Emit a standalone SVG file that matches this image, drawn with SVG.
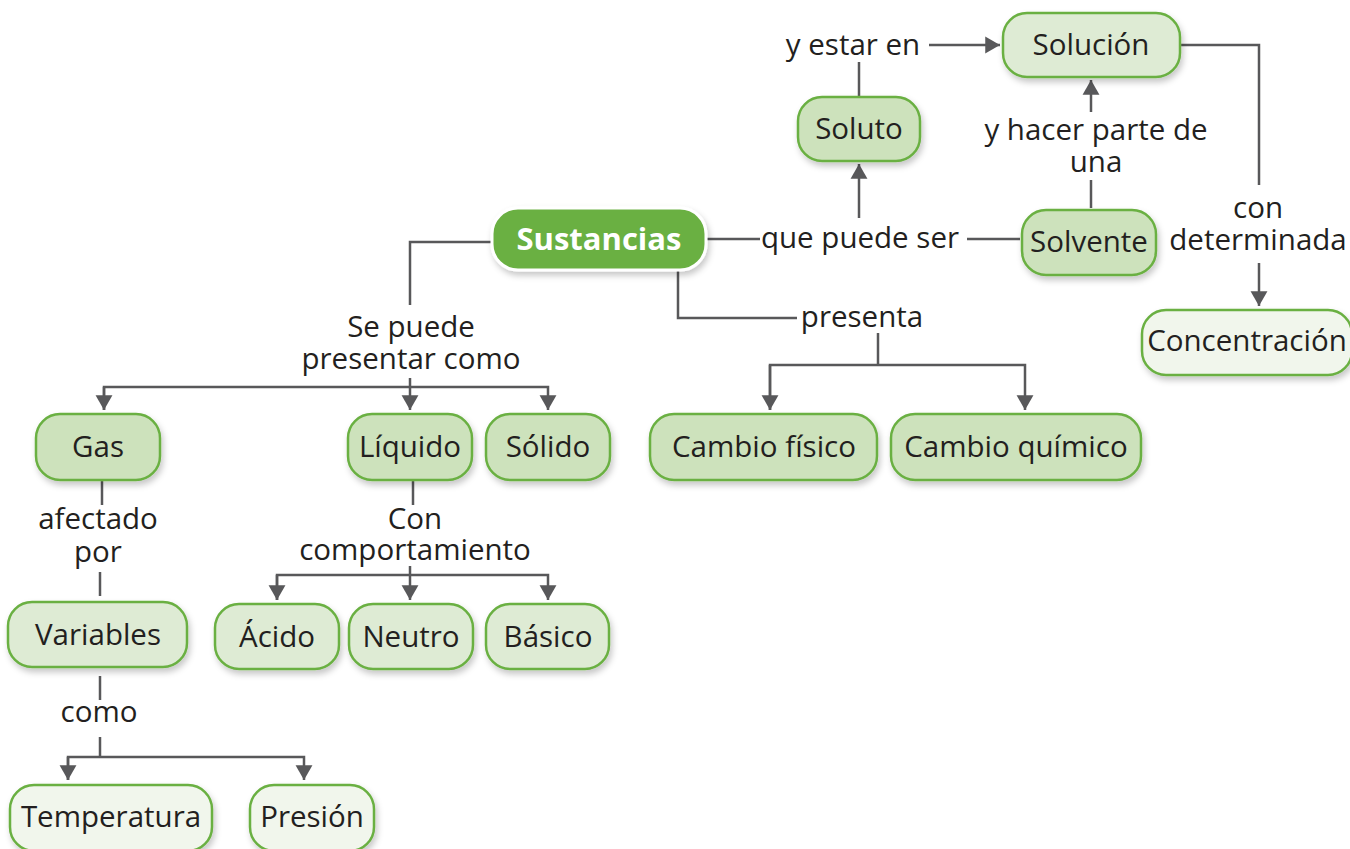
<svg xmlns="http://www.w3.org/2000/svg" width="1350" height="849" viewBox="0 0 1350 849">
<defs>
<filter id="sh" x="-20%" y="-20%" width="150%" height="160%">
<feDropShadow dx="2" dy="4" stdDeviation="3" flood-color="#000" flood-opacity="0.22"/>
</filter>
<marker id="ar" viewBox="0 0 14 18" markerWidth="15" markerHeight="19" refX="14" refY="9" orient="auto" markerUnits="userSpaceOnUse">
<path d="M0,1 L14,9 L0,17 Z" fill="#58585a"/>
</marker>
</defs>
<style>
text{font-family:"Open Sans","Noto Sans",sans-serif;font-size:29.5px;fill:#231f20;text-anchor:middle}
.n rect{stroke:#6ab042;stroke-width:2.5;filter:url(#sh)}
.m rect{fill:#cde2bc}
.l rect{fill:#deebd4}
.p rect{fill:#f1f6ec}
.c path{fill:none;stroke:#58585a;stroke-width:2.5}
.main rect{fill:#6ab042;stroke:#fff;stroke-width:3}
.main text{fill:#fff;font-weight:bold;font-size:31px}
</style>
<rect width="1350" height="849" fill="#fff"/>
<g class="c">
<path d="M492,242 H410 V305"/>
<path d="M410,378 V410" marker-end="url(#ar)"/>
<path d="M104,410 V387 H548 V410" marker-end="url(#ar)"/>
<path d="M104,387 V410" marker-end="url(#ar)"/>
<path d="M706,239 H760"/>
<path d="M967,239 H1020"/>
<path d="M859,218 V164" marker-end="url(#ar)"/>
<path d="M859,97 V62"/>
<path d="M929,45 H1000" marker-end="url(#ar)"/>
<path d="M1091,208 V180"/>
<path d="M1091,112 V80" marker-end="url(#ar)"/>
<path d="M1180,45 H1259 V185"/>
<path d="M1259,263 V306" marker-end="url(#ar)"/>
<path d="M678,270 V318 H797"/>
<path d="M878,333 V365"/>
<path d="M770,410 V365 H1025 V410" marker-end="url(#ar)"/>
<path d="M770,365 V410" marker-end="url(#ar)"/>
<path d="M102,480 V505"/>
<path d="M100,572 V596"/>
<path d="M413,480 V505"/>
<path d="M410,566 V600" marker-end="url(#ar)"/>
<path d="M277,600 V575 H548 V600" marker-end="url(#ar)"/>
<path d="M277,575 V600" marker-end="url(#ar)"/>
<path d="M100,676 V700"/>
<path d="M100,737 V757"/>
<path d="M68,780 V757 H304 V780" marker-end="url(#ar)"/>
<path d="M68,757 V780" marker-end="url(#ar)"/>
</g>
<g id="labels">
<text x="853" y="55">y estar en</text>
<text x="860" y="248">que puede ser</text>
<text x="1096" y="140">y hacer parte de</text>
<text x="1096" y="172">una</text>
<text x="1258" y="218">con</text>
<text x="1258" y="250">determinada</text>
<text x="411" y="337">Se puede</text>
<text x="411" y="369">presentar como</text>
<text x="862" y="327">presenta</text>
<text x="98" y="529">afectado</text>
<text x="98" y="562">por</text>
<text x="415" y="529">Con</text>
<text x="415" y="560">comportamiento</text>
<text x="99" y="722">como</text>
</g>
<g id="sustancias" class="n main"><rect x="492" y="208" width="214" height="62" rx="26"/><text x="599" y="250">Sustancias</text></g>
<g id="soluto" class="n m"><rect x="798" y="97" width="122" height="64" rx="24"/><text x="859" y="139">Soluto</text></g>
<g id="solucion" class="n l"><rect x="1003" y="13" width="177" height="64" rx="24"/><text x="1091" y="55">Solución</text></g>
<g id="solvente" class="n m"><rect x="1022" y="210" width="134" height="65" rx="24"/><text x="1089" y="252">Solvente</text></g>
<g id="concentracion" class="n p"><rect x="1142" y="310" width="210" height="65" rx="24"/><text x="1247" y="351">Concentración</text></g>
<g id="gas" class="n m"><rect x="36" y="414" width="124" height="66" rx="24"/><text x="98" y="457">Gas</text></g>
<g id="liquido" class="n m"><rect x="348" y="414" width="124" height="66" rx="24"/><text x="410" y="457">Líquido</text></g>
<g id="solido" class="n m"><rect x="486" y="414" width="124" height="66" rx="24"/><text x="548" y="457">Sólido</text></g>
<g id="cambio-fisico" class="n m"><rect x="650" y="414" width="227" height="66" rx="24"/><text x="764" y="457">Cambio físico</text></g>
<g id="cambio-quimico" class="n m"><rect x="891" y="414" width="250" height="66" rx="24"/><text x="1016" y="457">Cambio químico</text></g>
<g id="variables" class="n l"><rect x="8" y="602" width="179" height="65" rx="24"/><text x="98" y="645">Variables</text></g>
<g id="acido" class="n l"><rect x="215" y="604" width="124" height="65" rx="24"/><text x="277" y="647">Ácido</text></g>
<g id="neutro" class="n l"><rect x="349" y="604" width="124" height="65" rx="24"/><text x="411" y="647">Neutro</text></g>
<g id="basico" class="n l"><rect x="486" y="604" width="123" height="65" rx="24"/><text x="548" y="647">Básico</text></g>
<g id="temperatura" class="n p"><rect x="10" y="785" width="202" height="66" rx="24"/><text x="111" y="827">Temperatura</text></g>
<g id="presion" class="n p"><rect x="250" y="785" width="124" height="66" rx="24"/><text x="312" y="827">Presión</text></g>
</svg>
